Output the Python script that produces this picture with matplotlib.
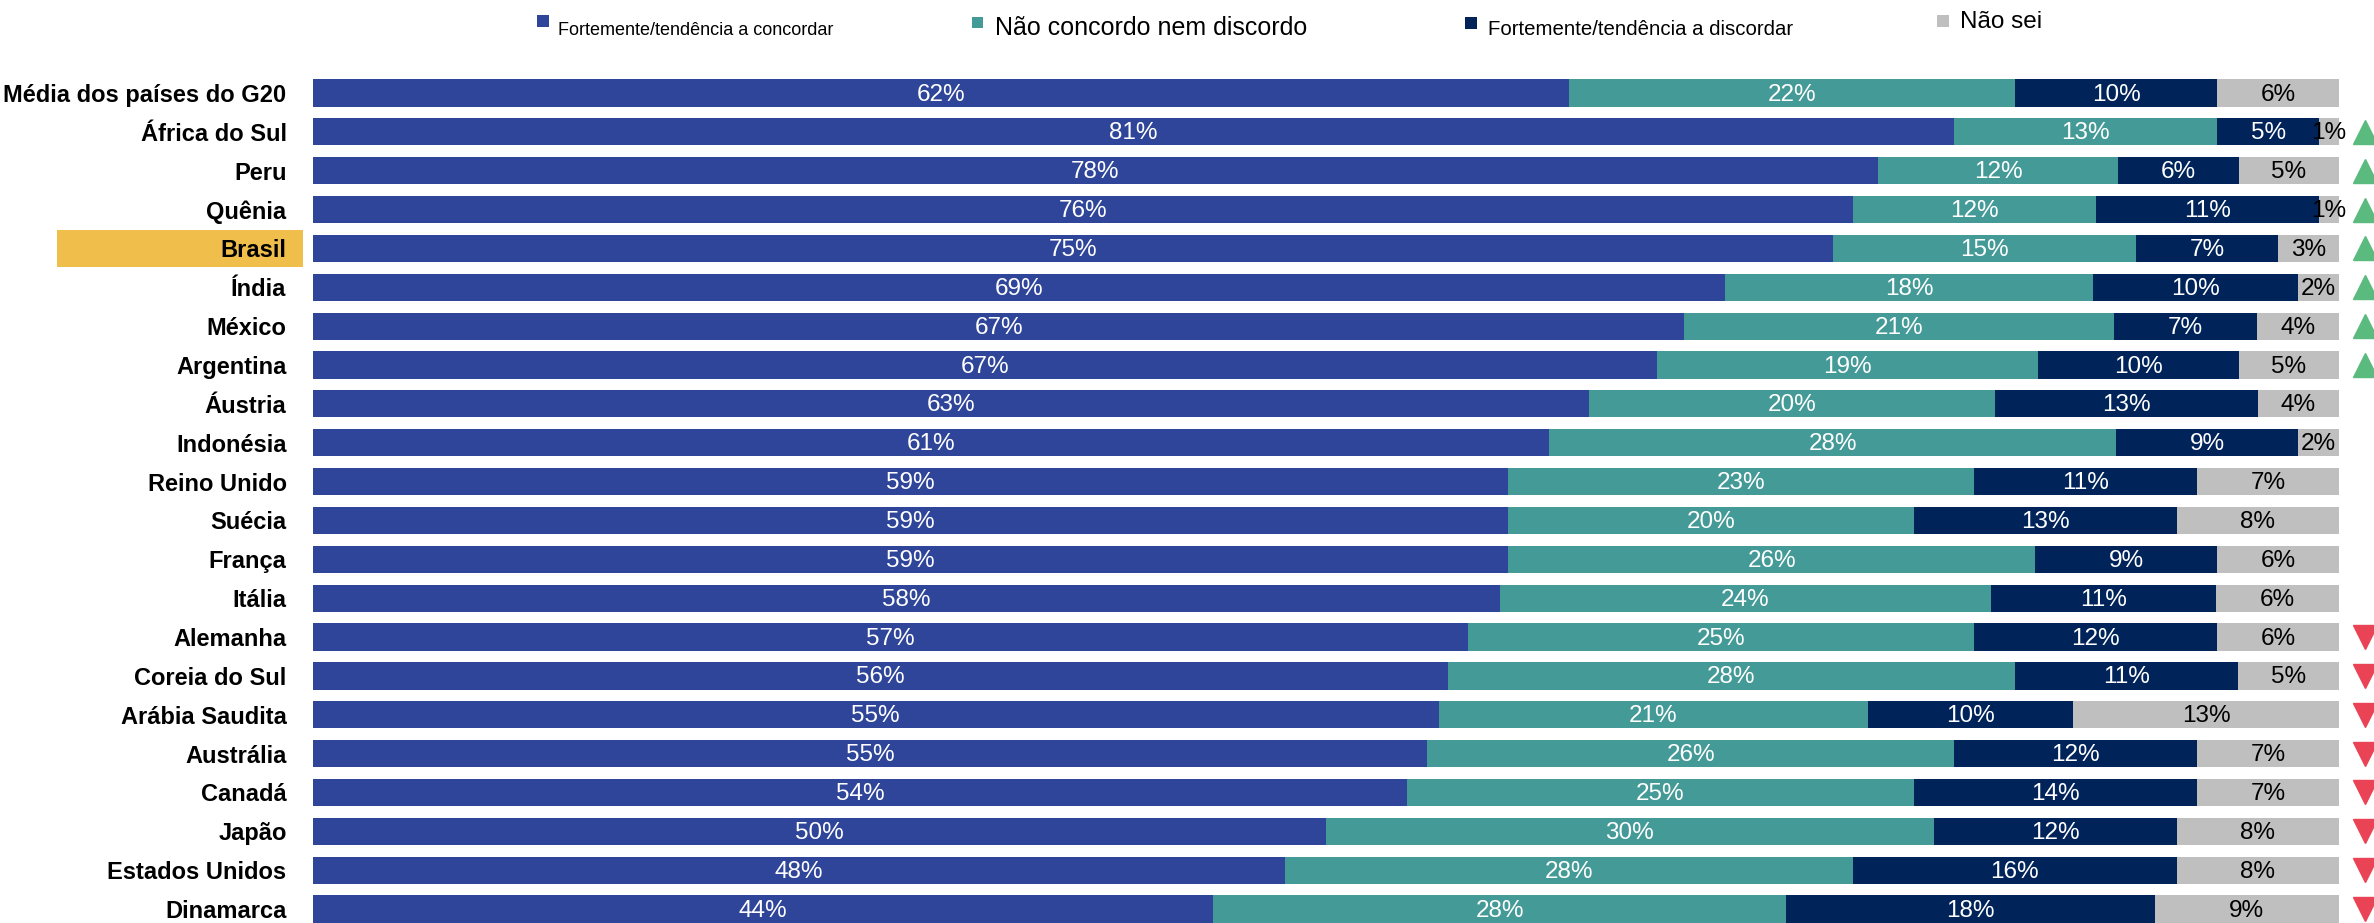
import matplotlib
matplotlib.use("Agg")
import matplotlib.pyplot as plt
from matplotlib.patches import Rectangle
import numpy as np

# ---------------- data ----------------
countries = ["Média dos países do G20", "África do Sul", "Peru", "Quênia", "Brasil",
             "Índia", "México", "Argentina", "Áustria", "Indonésia", "Reino Unido",
             "Suécia", "França", "Itália", "Alemanha", "Coreia do Sul",
             "Arábia Saudita", "Austrália", "Canadá", "Japão", "Estados Unidos",
             "Dinamarca"]
concordar = [62, 81, 78, 76, 75, 69, 67, 67, 63, 61, 59, 59, 59, 58, 57, 56, 55, 55, 54, 50, 48, 44]
neutro    = [22, 13, 12, 12, 15, 18, 21, 19, 20, 28, 23, 20, 26, 24, 25, 28, 21, 26, 25, 30, 28, 28]
discordar = [10,  5,  6, 11,  7, 10,  7, 10, 13,  9, 11, 13,  9, 11, 12, 11, 10, 12, 14, 12, 16, 18]
nao_sei   = [ 6,  1,  5,  1,  3,  2,  4,  5,  4,  2,  7,  8,  6,  6,  6,  5, 13,  7,  7,  8,  8,  9]
# +1 = up (green), -1 = down (red), 0 = none
tendencia = [0, 1, 1, 1, 1, 1, 1, 1, 0, 0, 0, 0, 0, 0, -1, -1, -1, -1, -1, -1, -1, -1]
series_names = ["Fortemente/tendência a concordar", "Não concordo nem discordo",
                "Fortemente/tendência a discordar", "Não sei"]
destaque = "Brasil"

# ---------------- style ----------------
colors = ["#2F4599", "#449A97", "#00235A", "#BFBFBF"]
text_colors = ["white", "white", "white", "black"]
FONT = "Liberation Sans"
plt.rcParams["font.family"] = [FONT, "DejaVu Sans"]

W, H = 2374, 923
fig = plt.figure(figsize=(W / 100, H / 100), dpi=100)
ax_left_px, ax_right_px = 313, 2339
ax = fig.add_axes([ax_left_px / W, 0, (ax_right_px - ax_left_px) / W, 1])

n = len(countries)
y = np.arange(n)
data = np.array([concordar, neutro, discordar, nao_sei], dtype=float)
totals = data.sum(axis=0)
norm = data / totals * 100.0

left = np.zeros(n)
for k in range(4):
    ax.barh(y, norm[k], left=left, height=0.7, color=colors[k], edgecolor="none")
    for i in range(n):
        ax.text(left[i] + norm[k][i] / 2, y[i] + 0.04, f"{int(data[k][i])}%",
                ha="center", va="center", color=text_colors[k], fontsize=17.5,
                family=FONT)
    left += norm[k]

# trend triangles
up = [i for i in range(n) if tendencia[i] > 0]
down = [i for i in range(n) if tendencia[i] < 0]
ax.plot([101.3] * len(up), up, linestyle="none", marker="^", markersize=17,
        color="#5BBA7E", clip_on=False)
ax.plot([101.3] * len(down), down, linestyle="none", marker="v", markersize=17,
        color="#EA4355", clip_on=False)

ax.set_xlim(0, 100)
row_px = 38.86
top_px = 93
ax.set_ylim((H - top_px) / row_px, -top_px / row_px)

ax.set_yticks(y)
ax.set_yticklabels(countries, fontsize=17, fontweight="bold", family=FONT)
ax.tick_params(axis="y", length=0, pad=19)
ax.set_xticks([])
for s in ax.spines.values():
    s.set_visible(False)

# highlight box behind Brasil
bi = countries.index(destaque)
axw = ax_right_px - ax_left_px
ax.add_patch(Rectangle(((57 - ax_left_px) / axw, bi - 0.47), (303 - 57) / axw, 0.94,
                       transform=ax.get_yaxis_transform(), facecolor="#F0BE4A",
                       edgecolor="none", clip_on=False, zorder=-1))

# legend (manual, mixed font sizes as in the original)
leg = [(537, 15, 12, 558, 35, 13.0),
       (972, 17, 11, 995, 35, 18.0),
       (1465, 17, 12, 1488, 35, 14.7),
       (1937, 15, 12, 1960, 28, 17.5)]
for k, (sx, sy, ss, tx, ty, fs) in enumerate(leg):
    fig.add_artist(Rectangle((sx / W, 1 - (sy + ss) / H), ss / W, ss / H,
                             transform=fig.transFigure, facecolor=colors[k],
                             edgecolor="none"))
    fig.text(tx / W, 1 - ty / H, series_names[k], ha="left", va="baseline",
             fontsize=fs, family=FONT, color="black")

fig.savefig("out.png", dpi=100, facecolor="white")
